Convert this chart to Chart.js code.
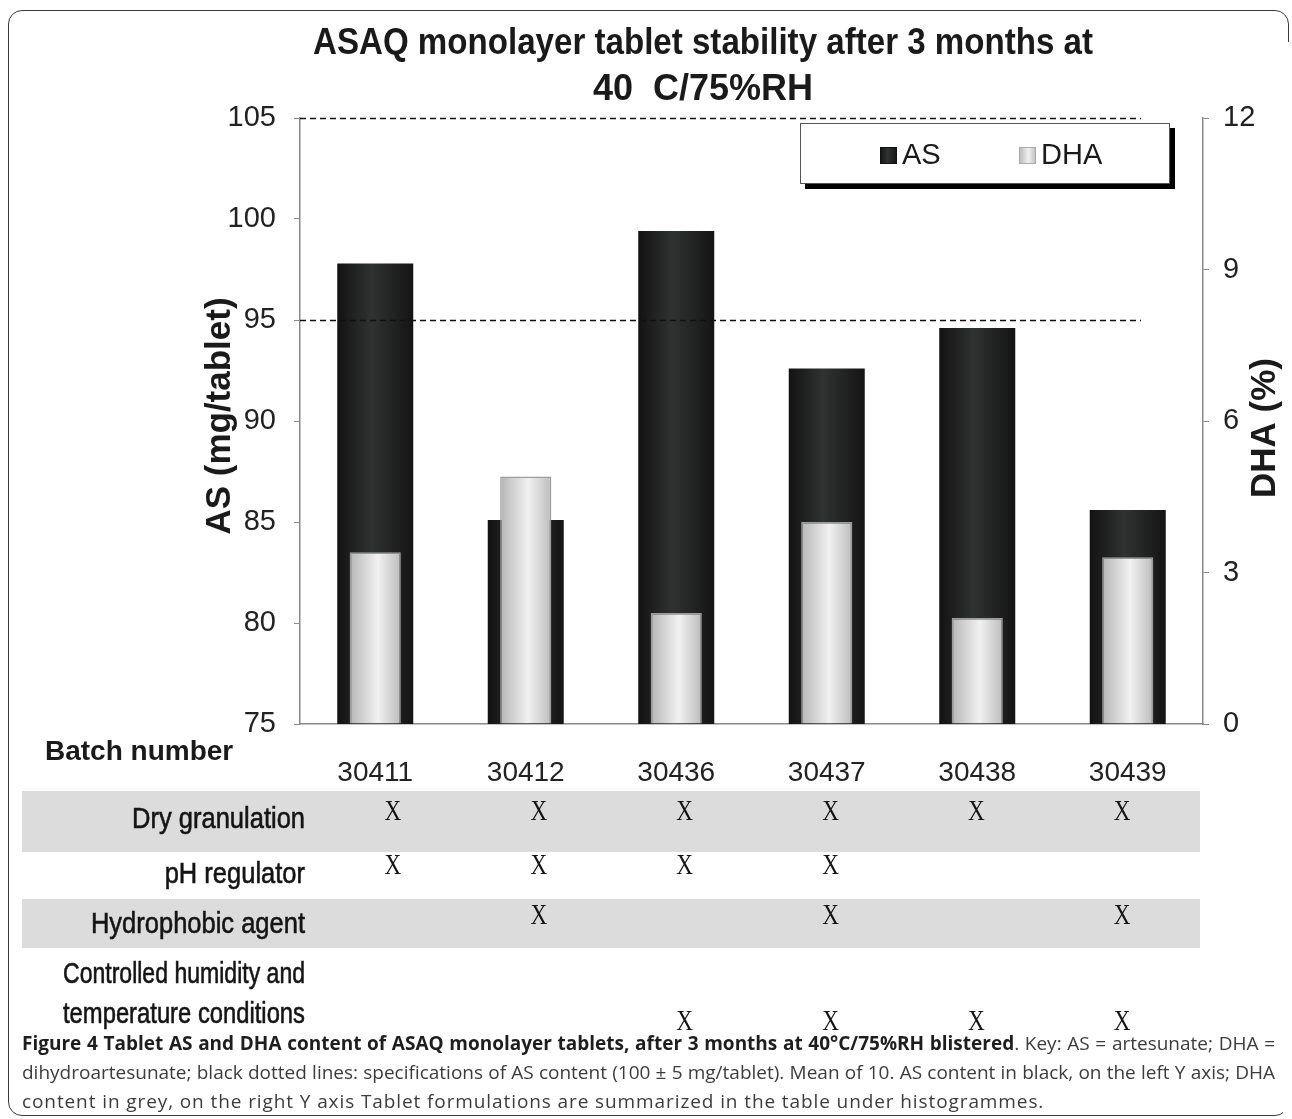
<!DOCTYPE html>
<html>
<head>
<meta charset="utf-8">
<script src="https://cdn.jsdelivr.net/npm/chart.js@4.4.1/dist/chart.umd.min.js"></script>
<style>
  html, body { margin: 0; padding: 0; background: #fff; }
  body { width: 1292px; height: 1119px; position: relative; overflow: hidden; }
  .frame { position: absolute; left: 8px; top: 10px; width: 1279px; height: 1104px;
           border: 1.5px solid #3a3a3a; border-radius: 14px; }
  .cover { position: absolute; left: 1283px; top: 42px; width: 9px; height: 1077px; background: #fff; }
  #chart { position: absolute; left: 0; top: 0; }
  .caption { position: absolute; left: 22px; top: 1029px; font-family: 'Open Sans', sans-serif;
             font-size: 19px; color: #3c3c3c; }
  .caption div { width: 1253px; height: 29px; line-height: 29px; overflow: hidden; white-space: nowrap; }
  .caption div.j { white-space: normal; text-align: justify; text-align-last: justify; }
  .caption div.last { letter-spacing: 0.9px; }
  .caption b { color: #1e1e1e; }
</style>
</head>
<body>
<div class="frame"></div>
<div class="cover"></div>
<canvas id="chart" width="1292" height="1040"></canvas>
<div class="caption">
  <div class="j"><b>Figure 4 Tablet AS and DHA content of ASAQ monolayer tablets, after 3 months at 40°C/75%RH blistered</b>. Key: AS = artesunate; DHA =</div>
  <div class="j">dihydroartesunate; black dotted lines: specifications of AS content (100 ± 5 mg/tablet). Mean of 10. AS content in black, on the left Y axis; DHA</div>
  <div class="last">content in grey, on the right Y axis Tablet formulations are summarized in the table under histogrammes.</div>
</div>
<script>
// batches and measured contents
const batches = ['30411', '30412', '30436', '30437', '30438', '30439'];
const asContent = [97.8, 85.1, 99.4, 92.6, 94.6, 85.6];   // mg/tablet, left axis
const dhaContent = [3.4, 4.9, 2.2, 4.0, 2.1, 3.3];        // %, right axis

const asMin = 75, asMax = 105, asStep = 5;
const dhaMin = 0, dhaMax = 12, dhaStep = 3;
const asSpecs = [95, 105];

// formulation table under the histogram (1 = X)
const tableLabels = ['Dry granulation', 'pH regulator', 'Hydrophobic agent',
    ['Controlled humidity and', 'temperature conditions']];
const dryGranulation = [1, 1, 1, 1, 1, 1];
const phRegulator = [1, 1, 1, 1, 0, 0];
const hydrophobicAgent = [0, 1, 0, 1, 0, 1];
const controlledConditions = [0, 0, 1, 1, 1, 1];

const SANS = "'Liberation Sans', Arial, Helvetica, sans-serif";
const SERIF = "'Liberation Serif', 'Times New Roman', serif";
const H = 1040;
const AS_PCT = 0.505, DHA_PCT = 0.34;

function barFill(pct, stops) {
    return (c) => {
        const chart = c.chart;
        const area = chart.chartArea;
        if (!area || c.dataIndex === undefined) return stops[1][1];
        const x = chart.scales.x.getPixelForValue(c.dataIndex);
        const w = area.width / batches.length * pct;
        const g = chart.ctx.createLinearGradient(x - w / 2, 0, x + w / 2, 0);
        stops.forEach(([o, col]) => g.addColorStop(o, col));
        return g;
    };
}

const asStops = [[0, '#121212'], [0.45, '#303231'], [1, '#141414']];
const dhaStops = [[0, '#b6b6b6'], [0.55, '#f0f1f0'], [1, '#bcbcbc']];

// squeeze text horizontally, the source figure uses a narrow face
function condensedText(ctx, text, x, y, ratio, weight, maxW) {
    let w = ctx.measureText(text).width * ratio;
    if (maxW) w = Math.min(w, maxW);
    ctx.fillText(text, x, y, w);
    if (weight) {
        ctx.lineWidth = weight;
        ctx.strokeStyle = ctx.fillStyle;
        ctx.strokeText(text, x, y, w);
    }
}

const decorations = {
    id: 'decorations',
    afterDatasetsDraw(chart) {
        const { ctx, chartArea, scales } = chart;
        ctx.save();
        ctx.strokeStyle = '#111';
        ctx.lineWidth = 1.5;
        ctx.setLineDash([6, 4]);
        asSpecs.forEach(v => {
            const y = Math.round(scales.y.getPixelForValue(v)) + 0.5;
            ctx.beginPath();
            ctx.moveTo(chartArea.left, y);
            ctx.lineTo(chartArea.right - 62, y);
            ctx.stroke();
        });
        ctx.restore();
    },
    afterDraw(chart) {
        const { ctx, scales } = chart;
        ctx.save();
        ctx.fillStyle = '#1a1a1a';

        // title
        ctx.font = `bold 36px ${SANS}`;
        ctx.textAlign = 'center';
        ctx.textBaseline = 'alphabetic';
        ctx.fillText('ASAQ monolayer tablet stability after 3 months at', 703, 54, 780);
        ctx.fillText('40  C/75%RH', 703, 100);

        // axis titles
        ctx.textBaseline = 'middle';
        ctx.font = `bold 35px ${SANS}`;
        ctx.save();
        ctx.translate(220, 416);
        ctx.rotate(-Math.PI / 2);
        ctx.fillText('AS (mg/tablet)', 0, 0);
        ctx.restore();
        ctx.save();
        ctx.translate(1265, 428);
        ctx.rotate(-Math.PI / 2);
        ctx.fillText('DHA (%)', 0, 0);
        ctx.restore();

        // legend box with drop shadow
        ctx.fillStyle = '#000';
        ctx.fillRect(805, 128, 370, 61);
        ctx.fillStyle = '#fff';
        ctx.fillRect(800, 123, 370, 61);
        ctx.strokeStyle = '#555';
        ctx.lineWidth = 1;
        ctx.strokeRect(800.5, 123.5, 369, 60);
        const items = [
            { label: chart.data.datasets[1].label, x: 880, stops: asStops, edge: '#111' },
            { label: chart.data.datasets[0].label, x: 1019, stops: dhaStops, edge: '#aaa' }
        ];
        ctx.font = `29px ${SANS}`;
        ctx.textAlign = 'left';
        ctx.textBaseline = 'middle';
        items.forEach(it => {
            const g = ctx.createLinearGradient(it.x, 0, it.x + 17, 0);
            it.stops.forEach(([o, col]) => g.addColorStop(o, col));
            ctx.fillStyle = g;
            ctx.fillRect(it.x, 147, 17, 17);
            ctx.strokeStyle = it.edge;
            ctx.strokeRect(it.x + 0.5, 147.5, 16, 16);
            ctx.fillStyle = '#1a1a1a';
            ctx.fillText(it.label, it.x + 22, 156);
        });

        // batch header
        ctx.font = `bold 28px ${SANS}`;
        ctx.textAlign = 'left';
        ctx.textBaseline = 'alphabetic';
        ctx.fillText('Batch number', 45, 760);

        // table bands
        ctx.fillStyle = '#dcdcdc';
        ctx.fillRect(22, 791, 1178, 61);
        ctx.fillRect(22, 899, 1178, 49);

        // table labels
        ctx.fillStyle = '#141414';
        ctx.font = `30px ${SANS}`;
        ctx.textAlign = 'right';
        ctx.textBaseline = 'middle';
        const labelY = [[820], [875], [925], [975, 1015]];
        tableLabels.forEach((lab, r) => {
            const lines = Array.isArray(lab) ? lab : [lab];
            lines.forEach((t, k) => condensedText(ctx, t, 305, labelY[r][k], 0.85, 0.6, 242));
        });

        // X marks
        const rows = [dryGranulation, phRegulator, hydrophobicAgent, controlledConditions];
        const markY = [812, 866, 916, 1022];
        ctx.font = `29px ${SERIF}`;
        ctx.textAlign = 'center';
        const c0 = scales.x.getPixelForValue(0);
        rows.forEach((row, r) => {
            row.forEach((v, i) => {
                if (!v) return;
                const c = scales.x.getPixelForValue(i);
                const x = 393 + (c - c0) * 0.969;
                condensedText(ctx, 'X', x, markY[r], 0.8);
            });
        });
        ctx.restore();
    }
};

new Chart(document.getElementById('chart'), {
    type: 'bar',
    data: {
        labels: batches,
        datasets: [{
            label: 'DHA',
            data: dhaContent,
            yAxisID: 'y1',
            order: 0,
            grouped: false,
            categoryPercentage: 1,
            barPercentage: DHA_PCT,
            backgroundColor: barFill(DHA_PCT, dhaStops),
            borderColor: '#9c9c9c',
            borderWidth: 1.5
        }, {
            label: 'AS',
            data: asContent,
            yAxisID: 'y',
            order: 1,
            grouped: false,
            categoryPercentage: 1,
            barPercentage: AS_PCT,
            backgroundColor: barFill(AS_PCT, asStops),
            borderColor: '#111',
            borderWidth: 0
        }]
    },
    options: {
        responsive: false,
        animation: false,
        layout: { padding: { top: 118, left: 0, right: 0, bottom: 0 } },
        plugins: {
            legend: { display: false },
            title: { display: false }
        },
        scales: {
            x: {
                grid: { display: false },
                border: { color: '#8a8a8a', width: 1.5 },
                ticks: { font: { size: 28, family: SANS }, color: '#222', padding: 24 },
                afterFit: s => { s.height = H - 724; }
            },
            y: {
                position: 'left',
                min: asMin, max: asMax,
                ticks: { stepSize: asStep, font: { size: 29, family: SANS }, color: '#222', padding: 18 },
                grid: { drawOnChartArea: false, color: '#8a8a8a', tickLength: 6 },
                border: { color: '#8a8a8a', width: 1.5 },
                afterFit: s => { s.width = 300; }
            },
            y1: {
                position: 'right',
                min: dhaMin, max: dhaMax,
                ticks: { stepSize: dhaStep, font: { size: 29, family: SANS }, color: '#222', padding: 14 },
                grid: { drawOnChartArea: false, color: '#8a8a8a', tickLength: 6 },
                border: { color: '#8a8a8a', width: 1.5 },
                afterFit: s => { s.width = 89; }
            }
        }
    },
    plugins: [decorations]
});
</script>
</body>
</html>
